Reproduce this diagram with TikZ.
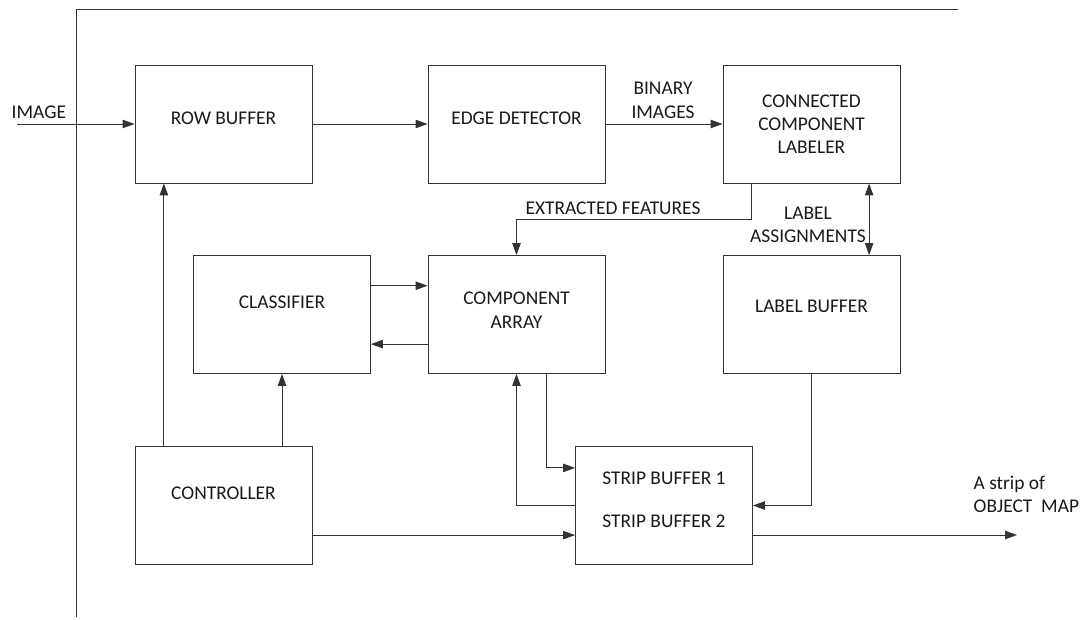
\documentclass[tikz,border=0pt]{standalone}
\usepackage{fontspec}
\setmainfont{Carlito}
\usetikzlibrary{arrows.meta}
\tikzset{
  blk/.style={draw=black!80, line width=0.6pt, minimum width=4.425cm, minimum height=2.95cm, inner sep=0pt},
  blktext/.style={align=center, font=\fontsize{13.8}{16.5}\selectfont, text=black!90},
  lbl/.style={align=center, font=\fontsize{13.8}{16.5}\selectfont, text=black!90, inner sep=1pt},
  wire/.style={draw=black!80, line width=0.6pt},
  arr/.style={wire, -{Triangle[length=8.5pt,width=6pt]}},
  darr/.style={wire, {Triangle[length=8.5pt,width=6pt]}-{Triangle[length=8.5pt,width=6pt]}}
}
\begin{document}
\begin{tikzpicture}
\begin{scope}[x=0.025cm, y=-0.025cm]
  \useasboundingbox (0,0) rectangle (1086,619);
  % Frame
  \draw[wire] (958,9.5) -- (76.5,9.5) -- (76.5,617);
  % Blocks
  \node[blk] (rowbuf) at (223.5,124) {};
  \node[blk] (edge) at (516.5,124) {};
  \node[blk] (ccl) at (811.5,124) {};
  \node[blk] (classifier) at (282,314.5) {};
  \node[blk] (comparr) at (516.5,314.5) {};
  \node[blk] (labelbuf) at (811.5,314.5) {};
  \node[blk] (controller) at (223.5,505.5) {};
  \node[blk] (strip) at (664,505.5) {};
  % Block texts
  \node[blktext] at ([yshift=0.15cm]rowbuf.center) {ROW BUFFER};
  \node[blktext] at ([yshift=0.15cm]edge.center) {EDGE DETECTOR};
  \node[blktext] at (ccl.center) {CONNECTED\\COMPONENT\\LABELER};
  \node[blktext] at ([yshift=0.11cm]comparr.center) {COMPONENT\\ARRAY};
  \node[blktext] at ([yshift=0.3cm]classifier.center) {CLASSIFIER};
  \node[blktext] at ([yshift=0.2cm]labelbuf.center) {LABEL BUFFER};
  \node[blktext] at ([yshift=0.3cm]controller.center) {CONTROLLER};
  \node[blktext, align=left] at ([yshift=0.14cm]strip.center) {STRIP BUFFER 1\\[14pt]STRIP BUFFER 2};
  % Connectors
  \coordinate (imgin) at (17,124);
  \draw[arr] (imgin) -- (rowbuf.west);
  \node[lbl, anchor=south west] (imglbl) at (10,120) {IMAGE};
  \draw[arr] (rowbuf.east) -- (edge.west);
  \draw[arr] (edge.east) -- (ccl.west);
  \node[lbl, anchor=south] (binlbl) at (663,120) {BINARY\\IMAGES};
  \draw[arr] ([xshift=-1.49cm]ccl.south) -- ++(0,36) -| (comparr.north);
  \node[lbl] (featlbl) at (613,208) {EXTRACTED FEATURES};
  \draw[darr] ([xshift=1.44cm]ccl.south) -- ([xshift=1.44cm]labelbuf.north);
  \node[lbl] (assignlbl) at (808,225) {LABEL\\ASSIGNMENTS};
  \draw[arr] ([yshift=0.72cm]classifier.east) -- ([yshift=0.72cm]classifier.east -| comparr.west);
  \draw[arr] ([yshift=-0.74cm]comparr.west) -- ([yshift=-0.74cm]comparr.west -| classifier.east);
  \draw[arr] ([xshift=-1.49cm]controller.north) -- ([xshift=-1.49cm]rowbuf.south);
  \draw[arr] (controller.north -| classifier.south) -- (classifier.south);
  \draw[arr] ([yshift=-0.74cm]controller.east) -- ([yshift=-0.74cm]controller.east -| strip.west);
  \draw[arr] ([xshift=0.76cm]comparr.south) |- ([yshift=0.94cm]strip.west);
  \draw[arr] (strip.west) -| (comparr.south);
  \draw[arr] (labelbuf.south) |- (strip.east);
  \coordinate (mapout) at (1017,535);
  \draw[arr] (strip.east |- mapout) -- (mapout);
  \node[lbl, align=left, anchor=west] (maplbl) at (972,494) {A strip of\\OBJECT~ MAP};
\end{scope}
\end{tikzpicture}
\end{document}
